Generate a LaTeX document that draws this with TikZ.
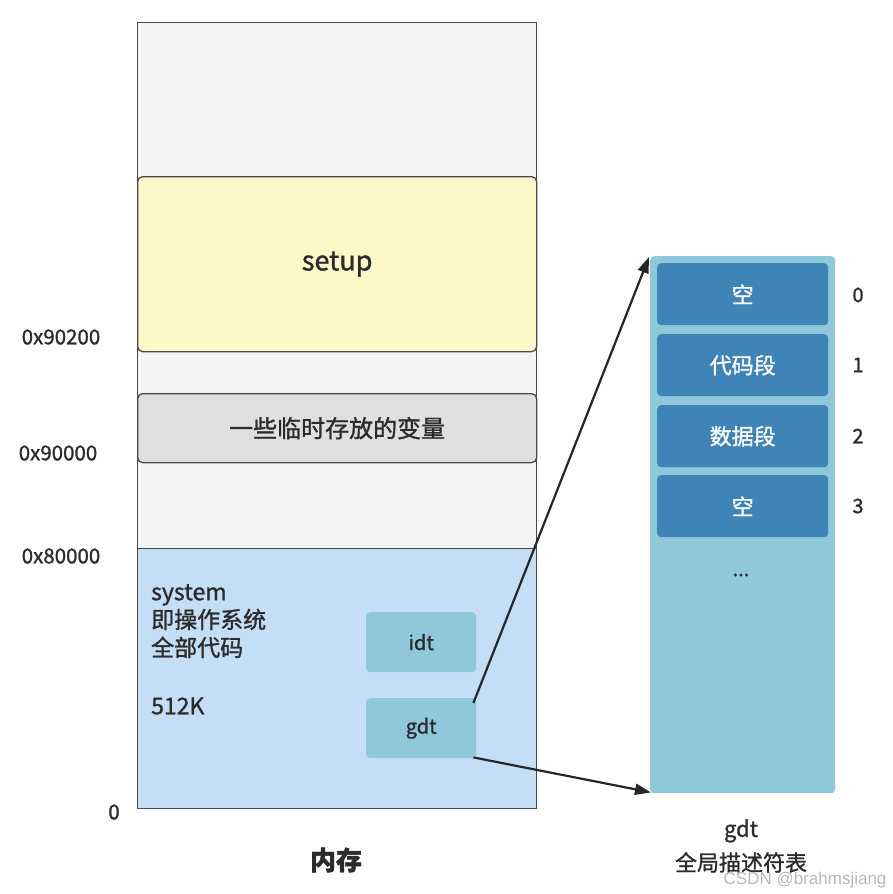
\documentclass[tikz,border=0pt]{standalone}
\usepackage{fontspec}
\usepackage{xcolor}
\usepackage{tikz}
\usetikzlibrary{positioning,arrows.meta,calc}
\newfontfamily\cjk{Noto Sans CJK SC}[RawFeature={embolden=1.2}]
\newfontfamily\markfont{Liberation Sans}
\definecolor{MemEdge}{HTML}{4A4A4A}
\definecolor{MemFree}{HTML}{F4F4F4}
\definecolor{MemSetup}{HTML}{FDF8C9}
\definecolor{MemTemp}{HTML}{DFDFDF}
\definecolor{MemSys}{HTML}{C4DEF6}
\definecolor{MemTeal}{HTML}{8FC8DB}
\definecolor{MemEntry}{HTML}{3E84B7}
\definecolor{MemText}{HTML}{2B2B2B}

\begin{document}
\begin{tikzpicture}[x=1pt,y=-1pt]
  \tikzset{
    memblock/.style={
      draw=MemEdge,
      line width=1.3pt,
      anchor=north west,
      inner sep=0pt,
      text=MemText
    },
    memlabel/.style={font=\cjk\fontsize{23}{28}\selectfont,text=MemText},
    addrlabel/.style={font=\cjk\fontsize{20.5}{24}\selectfont,text=MemText},
    tabbox/.style={
      fill=MemTeal,
      rounded corners=4pt,
      anchor=north west,
      inner sep=0pt,
      text=MemText,
      font=\cjk\fontsize{20}{24}\selectfont
    },
    entrybox/.style={
      fill=MemEntry,
      rounded corners=4pt,
      minimum width=171pt,
      minimum height=62pt,
      anchor=north west,
      inner sep=0pt,
      text=white,
      font=\cjk\fontsize{22}{26}\selectfont
    },
    idxlabel/.style={font=\cjk\fontsize{20}{24}\selectfont,text=MemText},
    ptrarrow/.style={
      -{Triangle[length=16pt,width=11pt]},
      draw=black!85,
      line width=2.2pt
    }
  }
  \useasboundingbox (0,0) rectangle (892,894);

  % ------------------------------------------------------------------
  % Memory column
  % ------------------------------------------------------------------
  \node[memblock,fill=MemFree,minimum width=399pt,minimum height=786pt]
    (mem) at (137,22) {};
  \node[memblock,fill=MemSys,minimum width=399pt,minimum height=260pt]
    (sys) at (137,548) {};
  \node[memblock,fill=MemSetup,rounded corners=5pt,minimum width=399pt,
    minimum height=175pt,font=\cjk\fontsize{27}{30}\selectfont]
    (setup) at (137,176) {setup};
  \node[memblock,fill=MemTemp,rounded corners=5pt,minimum width=399pt,
    minimum height=69pt,font=\cjk\fontsize{24}{28}\selectfont]
    (temp) at (137,393) {一些临时存放的变量};

  \node[memlabel,anchor=north west,align=left,inner sep=0pt] (systext) at (151,584)
    {system\\即操作系统\\全部代码};
  \node[memlabel,anchor=west,inner sep=0pt] (size) at (151,706) {512K};

  \node[tabbox,minimum width=110pt,minimum height=60pt] (idt) at (366,612) {idt};
  \node[tabbox,minimum width=110pt,minimum height=60pt] (gdt) at (366,698) {gdt};

  % address marks
  \node[addrlabel] (a90200) at (61,337) {0x90200};
  \node[addrlabel] (a90000) at (58,453) {0x90000};
  \node[addrlabel] (a80000) at (61,556) {0x80000};
  \node[addrlabel] (a0) at (114,812) {0};

  \node[font=\cjk\bfseries\fontsize{26}{30}\selectfont,text=MemText] (memname)
    at (336,860) {内存};

  % ------------------------------------------------------------------
  % Global descriptor table
  % ------------------------------------------------------------------
  \node[tabbox,minimum width=185pt,minimum height=537pt] (table) at (650,256) {};
  \node[entrybox] (e0) at (657,263) {空};
  \node[entrybox] (e1) at (657,334) {代码段};
  \node[entrybox] (e2) at (657,405) {数据段};
  \node[entrybox] (e3) at (657,475) {空};
  \node[idxlabel] (dots) at (741,575) {...};

  \node[idxlabel] (i0) at (858,295) {0};
  \node[idxlabel] (i1) at (858,365) {1};
  \node[idxlabel] (i2) at (858,436) {2};
  \node[idxlabel] (i3) at (858,506) {3};

  \node[memlabel,align=center,font=\cjk\fontsize{22}{34}\selectfont] (tabname)
    at (741,846) {gdt\\全局描述符表};

  \draw[ptrarrow] ([shift={(-3,5)}]gdt.north east) -- ([shift={(-1,1)}]table.north west);
  \draw[ptrarrow] ([shift={(-3,-1)}]gdt.south east) -- ([shift={(1,-1)}]table.south west);

  \node[font=\markfont\fontsize{17}{20}\selectfont,text=black!28,anchor=east]
    (mark) at (890,880) {CSDN @brahmsjiang};
\end{tikzpicture}
\end{document}
